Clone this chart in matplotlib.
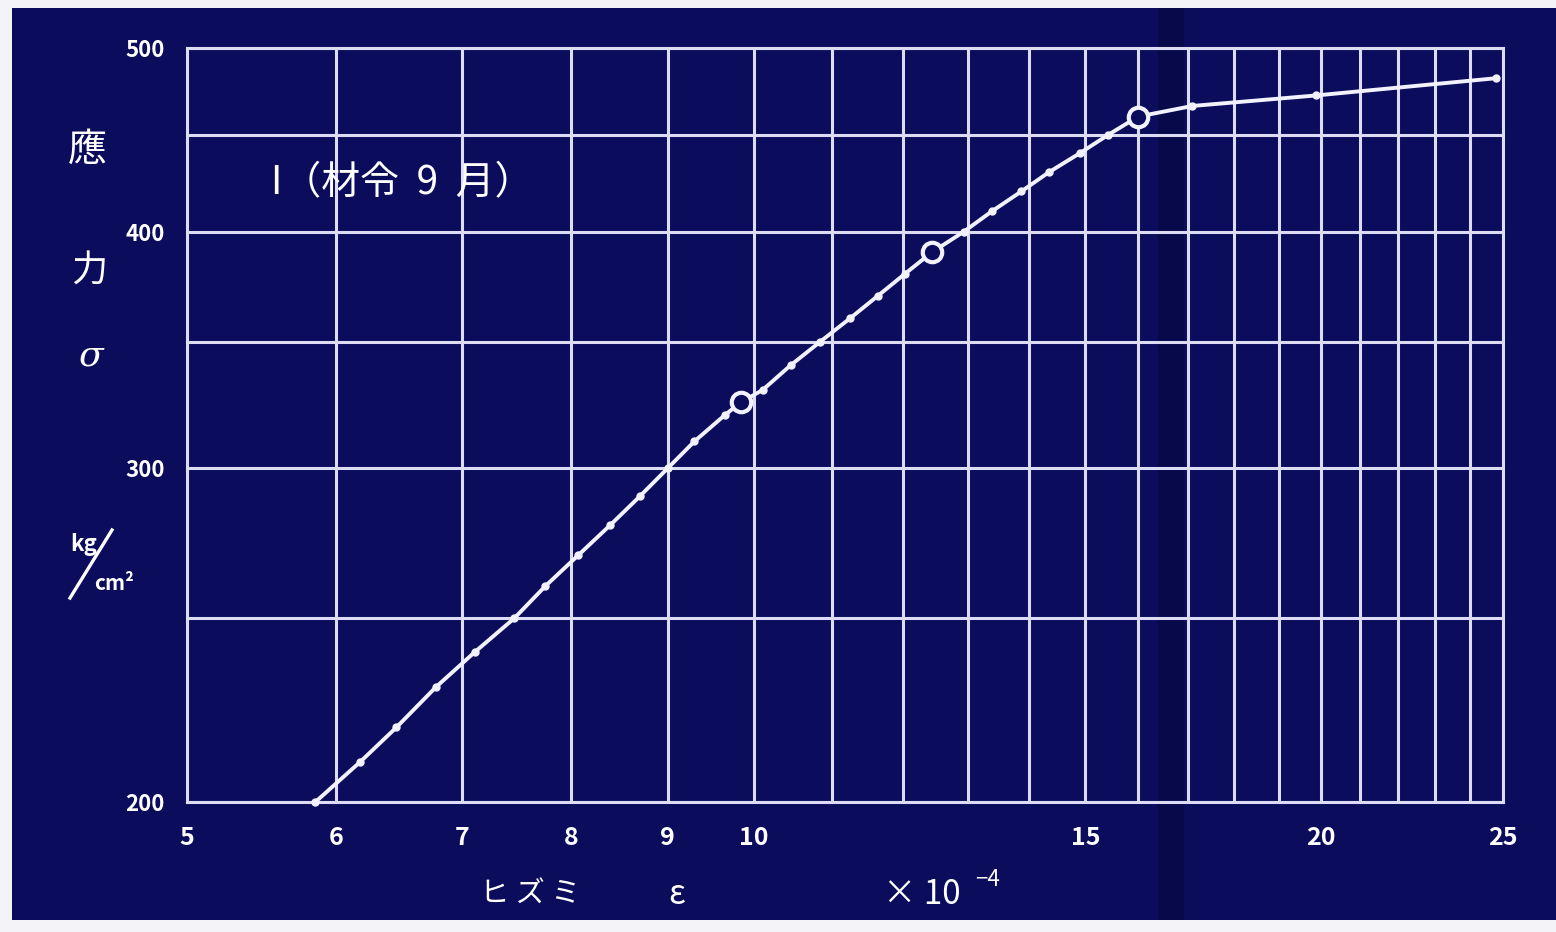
import matplotlib
matplotlib.use("Agg")
import matplotlib.pyplot as plt
from matplotlib.lines import Line2D
from matplotlib.patches import Rectangle

plt.rcParams['font.family'] = ['Noto Sans CJK JP', 'DejaVu Sans']

# strain (x 10^-4) and stress (kg/cm2)
strain = [5.85, 6.18, 6.46, 6.78, 7.11, 7.46, 7.75, 8.07, 8.39, 8.70, 9.0,
          9.30, 9.65, 9.84, 10.11, 10.46, 10.85, 11.25, 11.64, 12.03, 12.43,
          12.93, 13.38, 13.87, 14.35, 14.9, 15.43, 16.0, 17.1, 19.9, 24.8]
stress = [200, 210, 219, 230, 240, 250, 260, 270, 280, 290, 300,
          310, 320, 325, 330, 340, 350, 360, 370, 380, 390,
          400, 410, 420, 430, 440, 450, 460, 466, 472, 482]

# the three points marked with open circles
circle_strain = [9.84, 12.43, 16.0]
circle_stress = [325, 390, 460]

x_grid = list(range(5, 26))
x_labeled = [5, 6, 7, 8, 9, 10, 15, 20, 25]
y_grid = [200, 250, 300, 350, 400, 450, 500]
y_labeled = [200, 300, 400, 500]

navy = "#0b0c5c"
line_c = "#f2f2ff"
grid_c = "#dcdcf5"

W, H = 1556, 932
fig = plt.figure(figsize=(W / 100, H / 100), dpi=100)
fig.patch.set_facecolor("#f4f4f8")
# the blueprint sheet
fig.patches.append(Rectangle((12 / W, 12 / H), 1 - 12 / W, 1 - 20 / H,
                             transform=fig.transFigure, facecolor=navy,
                             edgecolor="none", zorder=-2))
# darker fold in the paper
fig.patches.append(Rectangle((1158 / W, 12 / H), 26 / W, 1 - 20 / H,
                             transform=fig.transFigure, facecolor="#060738",
                             edgecolor="none", alpha=0.45, zorder=-1))

ax = fig.add_axes([187 / W, 1 - 802 / H, (1503 - 187) / W, (802 - 48) / H])
ax.set_facecolor("none")
ax.set_xscale("log")
ax.set_yscale("log")
ax.set_xlim(5, 25)
ax.set_ylim(200, 500)

ax.xaxis.set_minor_locator(matplotlib.ticker.NullLocator())
ax.yaxis.set_minor_locator(matplotlib.ticker.NullLocator())
ax.set_xticks(x_grid)
ax.set_xticklabels([str(v) if v in x_labeled else "" for v in x_grid])
ax.set_yticks(y_grid)
ax.set_yticklabels([str(v) if v in y_labeled else "" for v in y_grid])
ax.tick_params(length=0, colors="white")
ax.tick_params(axis="x", pad=17, labelsize=18)
ax.tick_params(axis="y", pad=16, labelsize=16)
for lab in ax.get_xticklabels() + ax.get_yticklabels():
    lab.set_fontweight("bold")

ax.grid(True, color=grid_c, linewidth=2.2)
ax.set_axisbelow(True)
for s in ax.spines.values():
    s.set_color(grid_c)
    s.set_linewidth(2.2)

ax.plot(strain, stress, color=line_c, linewidth=2.8, marker="o",
        markersize=5, markerfacecolor=line_c, markeredgecolor=line_c,
        zorder=3, clip_on=False)
ax.plot(circle_strain, circle_stress, linestyle="none", marker="o",
        markersize=14, markerfacecolor=navy, markeredgecolor=line_c,
        markeredgewidth=3, zorder=4)

def ftext(px, py, s, **kw):
    fig.text(px / W, 1 - py / H, s, color="white", ha="center", va="center", **kw)

# y axis label written as a column
ftext(87, 150, "應", fontsize=28)
ftext(89, 272, "力", fontsize=26)
ftext(90, 355, "σ", fontsize=26, family=["DejaVu Serif"], style="italic")
ftext(84, 544, "kg", fontsize=16, style="italic", fontweight="bold")
ftext(114, 584, "cm²", fontsize=15, fontweight="bold")
fig.add_artist(Line2D([70 / W, 112 / W], [1 - 598 / H, 1 - 530 / H],
                      transform=fig.transFigure, color="white", linewidth=2.4))

# title inside the plot
ftext(402, 183, "I（材令  9  月）", fontsize=28)

# x axis label
ftext(530, 895, "ヒ ズ ミ", fontsize=21)
ftext(677, 895, "ε", fontsize=24)
ftext(922, 895, "× 10", fontsize=24)
ftext(988, 879, "−4", fontsize=16)

fig.savefig("out.png", dpi=100, facecolor=fig.get_facecolor())
